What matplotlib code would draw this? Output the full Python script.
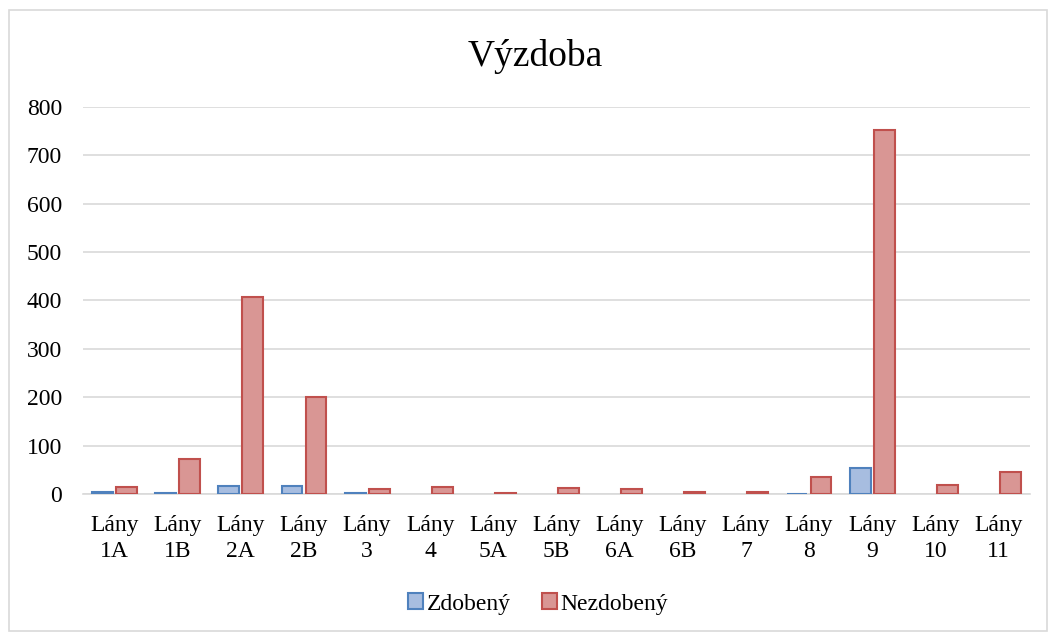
import matplotlib
matplotlib.use("Agg")
import matplotlib.pyplot as plt
import numpy as np
from matplotlib.patches import Rectangle

categories = ["Lány\n1A", "Lány\n1B", "Lány\n2A", "Lány\n2B", "Lány\n3", "Lány\n4",
              "Lány\n5A", "Lány\n5B", "Lány\n6A", "Lány\n6B", "Lány\n7", "Lány\n8",
              "Lány\n9", "Lány\n10", "Lány\n11"]
zdobeny = [4, 3, 17, 17, 3, 0, 0, 0, 0, 0, 0, 1, 54, 0, 0]
nezdobeny = [15, 72, 407, 200, 11, 14, 2, 13, 10, 5, 4, 35, 753, 18, 45]
yticks = [0, 100, 200, 300, 400, 500, 600, 700, 800]

plt.rcParams['font.family'] = ['Liberation Serif', 'DejaVu Serif']

fig = plt.figure(figsize=(10.48, 6.32), dpi=100)
fig.patches.append(Rectangle((9/1048, 1 - 631/632), 1038/1048, 621/632,
                             transform=fig.transFigure, fill=False,
                             edgecolor='#d9d9d9', linewidth=1.2))
ax = fig.add_axes([83/1048, 1 - 494/632, 947/1048, 387/632])

x = np.arange(len(categories))
w = 0.33
lw_z = [1.5 if v > 0 else 0 for v in zdobeny]
lw_n = [1.5 if v > 0 else 0 for v in nezdobeny]
ax.bar(x - 0.19, zdobeny, w, color='#a7bde0', edgecolor='#4f81bd', linewidth=lw_z,
       label='Zdobený', zorder=3)
ax.bar(x + 0.19, nezdobeny, w, color='#d99694', edgecolor='#c0504d', linewidth=lw_n,
       label='Nezdobený', zorder=3)

ax.set_xlim(-0.5, len(categories) - 0.5)
ax.set_ylim(0, 800)
ax.set_yticks(yticks)
ax.set_yticklabels([str(v) for v in yticks], fontsize=17)
ax.set_xticks(x)
ax.set_xticklabels(categories, fontsize=17, linespacing=1.3)
ax.yaxis.grid(True, color='#d9d9d9', linewidth=1.2, zorder=0)
for s in ['top', 'right', 'left']:
    ax.spines[s].set_visible(False)
ax.spines['bottom'].set_color('#d9d9d9')
ax.spines['bottom'].set_linewidth(1.2)
ax.tick_params(axis='both', length=0)
ax.tick_params(axis='y', pad=15)
ax.tick_params(axis='x', pad=15)

fig.text(535/1048, 1 - 56/632, 'Výzdoba', fontsize=27, ha='center', va='center')

leg = fig.legend(loc='center', bbox_to_anchor=(538/1048, 1 - 604/632), ncol=2,
                 frameon=False, fontsize=17, handlelength=0.65, handleheight=0.65,
                 handletextpad=0.15, columnspacing=1.3)

fig.savefig('out.png', dpi=100)
